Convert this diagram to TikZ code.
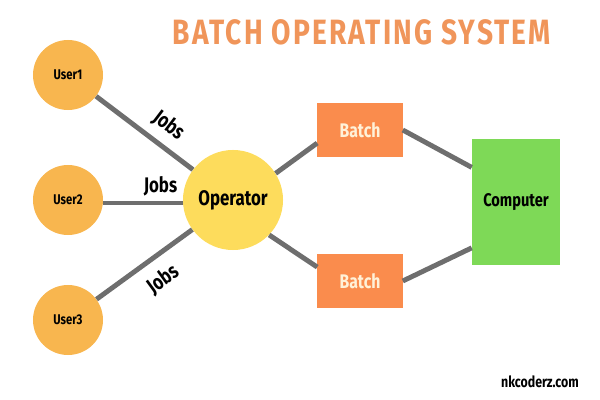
\documentclass[tikz,border=0pt]{standalone}
\usepackage{fontspec}
\setmainfont{Fira Sans}[FakeStretch=0.8]
\usetikzlibrary{positioning, calc}
\definecolor{userorange}{HTML}{F8B64F}
\definecolor{opyellow}{HTML}{FDDC5C}
\definecolor{batchorange}{HTML}{FA8C4D}
\definecolor{compgreen}{HTML}{7ED957}
\definecolor{titleorange}{HTML}{F0955A}
\definecolor{linkgray}{HTML}{6E6E6E}
\definecolor{cream}{HTML}{FFF1D8}
\tikzset{
    user/.style={circle, fill=userorange, minimum size=1.75cm, inner sep=0pt, font=\fontsize{10}{12}\selectfont\bfseries},
    operator/.style={circle, fill=opyellow, minimum size=2.5cm, inner sep=0pt, font=\fontsize{15}{18}\selectfont\bfseries},
    batch/.style={rectangle, fill=batchorange, minimum width=2.125cm, minimum height=1.35cm, inner sep=0pt, text=cream, font=\fontsize{14}{16}\selectfont\bfseries},
    computer/.style={rectangle, fill=compgreen, minimum width=2.2cm, minimum height=3.15cm, inner sep=0pt, font=\fontsize{13}{15}\selectfont\bfseries},
    link/.style={draw=linkgray, line width=3.5pt},
    jobs/.style={font=\fontsize{15}{18}\selectfont\bfseries, inner sep=3pt}
}
\begin{document}
\begin{tikzpicture}[x=0.025cm, y=-0.025cm]
    \useasboundingbox (0,0) rectangle (600,400);
    \node (title) at (362,32) [text=titleorange, font=\fontsize{25}{28}\selectfont\bfseries\addfontfeature{LetterSpace=6}] {BATCH OPERATING SYSTEM};
    \node (u1) [user] at (68,75) {User1};
    \node (u2) [user] at (68,200) {User2};
    \node (u3) [user] at (68,320) {User3};
    \node (op) [operator] at (233,200) {Operator};
    \node (b1) [batch] at (360,130) {Batch};
    \node (b2) [batch] at (360,281) {Batch};
    \node (comp) [computer] at (516,202) {Computer};
    \node (site) at (540,382) [font=\fontsize{11}{13}\selectfont\bfseries] {nkcoderz.com};
    % users to operator
    \draw [link] (u1) -- node [jobs, pos=0.62, above, sloped, inner sep=6pt] {Jobs} (op);
    \draw [link] (u2.east |- 0,203) -- node [jobs, pos=0.72, above] {Jobs} (op.west |- 0,203);
    \draw [link] (u3) -- node [jobs, pos=0.55, below, sloped, inner sep=8pt] {Jobs} (op);
    % operator to batches
    \draw [link] (op.32) -- (b1.197);
    \draw [link] (op.-44) -- (b2.162);
    % batches to computer
    \draw [link] (b1.east) -- (comp.142);
    \draw [link] (b2.east) -- (comp.226);
\end{tikzpicture}
\end{document}
